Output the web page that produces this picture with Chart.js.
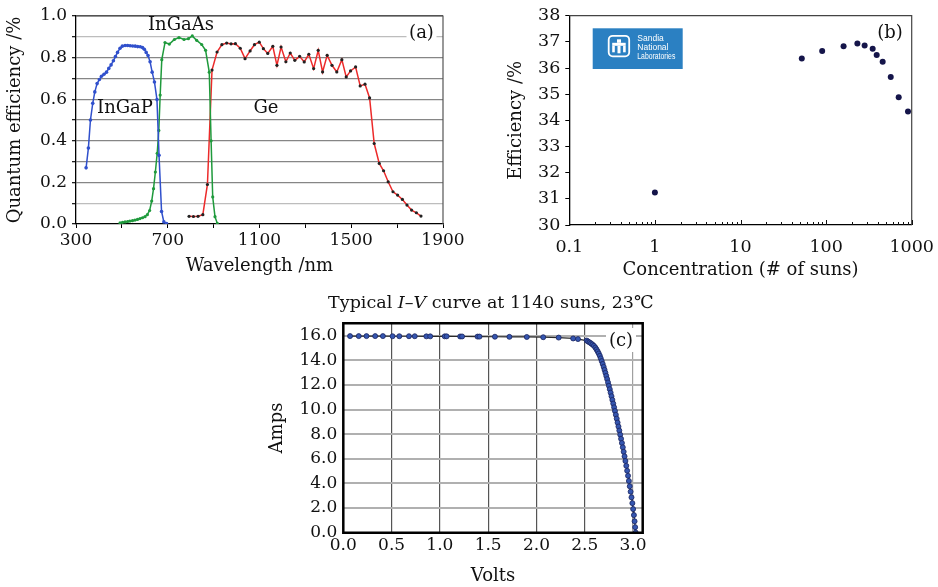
<!DOCTYPE html>
<html>
<head>
<meta charset="utf-8">
<script src="https://cdn.jsdelivr.net/npm/chart.js@4.4.0/dist/chart.umd.min.js"></script>
<style>
  body { margin: 0; background: #fff; }
  #wrap { position: relative; width: 938px; height: 587px; overflow: hidden; }
  #wrap canvas { position: absolute; }
</style>
</head>
<body>
<div id="wrap">
  <canvas id="qe" width="470" height="285" style="left:0;top:0"></canvas>
  <canvas id="eff" width="468" height="285" style="left:470px;top:0"></canvas>
  <canvas id="iv" width="440" height="302" style="left:250px;top:285px"></canvas>
</div>
<script>
// (a) quantum efficiency of the three sub-cells
const ingapNm = [344,354,363,373,382,392,402,411,422,433,443,453,463,472,481,492,502,514,525,536,547,558,569,580,590,598,606,614,623,632,642,653,662,673,683,695];
const ingapQE = [0.27,0.365,0.50,0.58,0.635,0.675,0.695,0.71,0.72,0.73,0.748,0.765,0.785,0.805,0.825,0.845,0.855,0.858,0.858,0.857,0.856,0.855,0.853,0.852,0.848,0.84,0.825,0.81,0.78,0.73,0.683,0.598,0.33,0.06,0.01,0.002];

const ingaasNm = [492,503,514,525,535,546,557,568,579,590,601,611,621,630,638,646,654,661,667,674,688,707,729,749,771,790,807,826,848,865,881,889,896,906,916];
const ingaasQE = [0.005,0.008,0.01,0.012,0.014,0.016,0.019,0.022,0.026,0.03,0.035,0.045,0.065,0.11,0.17,0.25,0.34,0.45,0.62,0.79,0.872,0.865,0.887,0.896,0.887,0.891,0.904,0.883,0.863,0.835,0.73,0.40,0.13,0.035,0.003];

const geNm = [793,812,832,853,873,893,915,936,957,976,995,1016,1037,1059,1078,1099,1117,1136,1158,1176,1194,1215,1234,1254,1275,1295,1315,1336,1356,1375,1395,1416,1437,1459,1478,1497,1519,1539,1560,1580,1600,1622,1641,1661,1682,1702,1723,1743,1763,1784,1804];
const geQE = [0.037,0.036,0.037,0.045,0.19,0.74,0.827,0.862,0.87,0.866,0.867,0.845,0.795,0.832,0.862,0.874,0.843,0.82,0.854,0.763,0.851,0.78,0.822,0.787,0.806,0.779,0.816,0.747,0.835,0.731,0.811,0.763,0.731,0.79,0.707,0.736,0.755,0.664,0.672,0.606,0.387,0.291,0.256,0.203,0.155,0.139,0.118,0.091,0.067,0.054,0.038];

// (b) efficiency vs concentration
const concSuns = [1.0,52,90,160,232,282,350,390,458,569,705,905];
const effPct = [31.24,36.36,36.65,36.83,36.94,36.86,36.74,36.5,36.24,35.66,34.88,34.34];
const concLabels = ['0.1','1','10','100','1000'];

// (c) I-V curve at 1140 suns
const ivVolts = [0.07,0.16,0.24,0.33,0.41,0.51,0.58,0.68,0.74,0.86,0.90,1.05,1.07,1.21,1.23,1.39,1.41,1.57,1.72,1.90,2.07,2.23,2.38,2.43,
  2.52,2.535,2.55,2.565,2.58,2.595,2.61,2.622,2.634,2.645,2.656,2.666,2.676,2.686,2.696,2.705,2.714,2.723,2.732,2.741,2.75,2.759,2.768,2.777,
  2.786,2.795,2.804,2.813,2.822,2.831,2.84,2.849,2.858,2.867,2.876,2.885,2.894,2.903,2.912,2.921,2.93,2.939,2.948,2.957,2.966,2.975,2.984,
  2.993,3.001,3.009,3.016,3.022,3.027];
const ivAmps = [15.96,15.96,15.96,15.96,15.96,15.95,15.95,15.95,15.95,15.94,15.94,15.94,15.94,15.93,15.93,15.92,15.92,15.91,15.9,15.89,15.87,15.84,15.77,15.72,
  15.6,15.52,15.45,15.37,15.28,15.17,15.03,14.88,14.72,14.55,14.36,14.15,13.93,13.7,13.46,13.22,12.98,12.73,12.47,12.2,11.93,11.65,11.37,11.08,
  10.78,10.48,10.18,9.88,9.57,9.26,8.94,8.62,8.29,7.96,7.62,7.28,6.93,6.57,6.2,5.82,5.43,5.03,4.62,4.2,3.77,3.33,2.87,
  2.4,1.92,1.43,0.93,0.45,0.02];

const SERIF = '"DejaVu Serif", "Noto Sans CJK SC", serif';
Chart.defaults.font.family = SERIF;
Chart.defaults.color = '#111';

const pts = (xs, ys) => xs.map((x, i) => ({ x: x, y: ys[i] }));

// free text, optionally on a white patch that hides the grid behind it
const notes = {
  id: 'notes',
  afterDraw(chart, args, opts) {
    const ctx = chart.ctx;
    (opts.items || []).forEach(n => {
      ctx.save();
      if (n.bg) { ctx.fillStyle = '#fff'; ctx.fillRect(n.bg[0], n.bg[1], n.bg[2], n.bg[3]); }
      ctx.fillStyle = '#111';
      ctx.textAlign = 'center';
      ctx.textBaseline = 'middle';
      if (n.runs) {
        let total = 0;
        n.runs.forEach(r => { ctx.font = r.font; r.w = ctx.measureText(r.text).width; total += r.w; });
        let x = n.x - total / 2;
        ctx.textAlign = 'left';
        n.runs.forEach(r => { ctx.font = r.font; ctx.fillText(r.text, x, n.y); x += r.w; });
      } else {
        ctx.font = n.font || ('18px ' + SERIF);
        ctx.fillText(n.text, n.x, n.y);
      }
      ctx.restore();
    });
  }
};

// box lines on the sides that have no axis
const frame = {
  id: 'frame',
  afterDatasetsDraw(chart, args, opts) {
    const { ctx, chartArea: a } = chart;
    ctx.save();
    ctx.strokeStyle = opts.color || '#444';
    ctx.lineWidth = opts.width || 1;
    ctx.beginPath();
    if (opts.all) {
      ctx.rect(a.left, a.top, a.right - a.left, a.bottom - a.top);
    } else {
      ctx.moveTo(a.left, a.top); ctx.lineTo(a.right, a.top); ctx.lineTo(a.right, a.bottom);
    }
    ctx.stroke();
    ctx.restore();
  }
};

const base = {
  responsive: false,
  animation: false,
  devicePixelRatio: 1,
  plugins: { legend: { display: false }, tooltip: { enabled: false } }
};

// ---------- (a) ----------
new Chart(document.getElementById('qe'), {
  type: 'scatter',
  data: {
    datasets: [
      { data: pts(ingapNm, ingapQE), showLine: true, borderColor: '#3050cc', borderWidth: 1.5,
        pointRadius: 1.8, pointBackgroundColor: '#3050cc', pointBorderWidth: 0 },
      { data: pts(ingaasNm, ingaasQE), showLine: true, borderColor: '#1f9a3c', borderWidth: 1.5,
        pointRadius: 1.6, pointBackgroundColor: '#1f9a3c', pointBorderWidth: 0 },
      { data: pts(geNm, geQE), showLine: true, borderColor: '#ec2a2a', borderWidth: 1.5,
        pointRadius: 1.6, pointBackgroundColor: '#222', pointBorderWidth: 0 }
    ]
  },
  options: Object.assign({}, base, {
    layout: { padding: { left: 0, right: 27, top: 16, bottom: 0 } },
    scales: {
      x: {
        type: 'linear', min: 300, max: 1900,
        afterFit: s => { s.height = 61; },
        ticks: { stepSize: 200, autoSkip: false, maxRotation: 0, padding: 2,
          font: { size: 17 },
          callback: v => ((v - 300) % 400 === 0 ? String(v) : '') },
        grid: { drawOnChartArea: false, tickLength: 4, color: '#000' },
        border: { color: '#000', width: 1.3 },
        title: { display: true, text: 'Wavelength /nm', font: { size: 18 }, padding: { top: 0, bottom: 8 } }
      },
      y: {
        min: 0, max: 1,
        afterFit: s => { s.width = 76; },
        ticks: { stepSize: 0.1, autoSkip: false, padding: 5, font: { size: 17 },
          callback: v => (Math.round(v * 10) % 2 === 0 ? v.toFixed(1) : '') },
        grid: {
          lineWidth: 1.3, tickLength: 4, tickColor: '#222',
          color: c => {
            const k = Math.round(c.tick.value * 10);
            if (k === 0) return 'rgba(0,0,0,0)';
            if (k === 10) return '#555';
            return (k === 1 || k === 9) ? '#bdbdbd' : '#868686';
          }
        },
        border: { color: '#000', width: 1.3 },
        title: { display: true, text: 'Quantum efficiency /%', font: { size: 18 }, padding: { top: 5, bottom: 0 } }
      }
    },
    plugins: Object.assign({}, base.plugins, {
      frame: { color: '#555', width: 1.2 },
      notes: { items: [
        { text: 'InGaAs', x: 181, y: 25 },
        { text: 'InGaP', x: 125, y: 108 },
        { text: 'Ge', x: 266, y: 108 },
        { text: '(a)', x: 421.5, y: 33, bg: [406.5, 25, 30, 16] }
      ] }
    })
  }),
  plugins: [frame, notes]
});

// ---------- (b) ----------
const decade = v => Math.abs(Math.log10(v) - Math.round(Math.log10(v))) < 1e-6;

// short inward ticks along the log axis
const inTicks = {
  id: 'inTicks',
  afterDatasetsDraw(chart) {
    const s = chart.scales.x, ctx = chart.ctx, b = chart.chartArea.bottom;
    ctx.save();
    ctx.strokeStyle = '#111';
    ctx.lineWidth = 1;
    s.ticks.forEach(t => {
      const px = Math.round(s.getPixelForValue(t.value)) + 0.5;
      ctx.beginPath();
      ctx.moveTo(px, b);
      ctx.lineTo(px, b - (decade(t.value) ? 5 : 3));
      ctx.stroke();
    });
    ctx.restore();
  }
};

// laboratory badge in the upper left of the plot
const badge = {
  id: 'badge',
  afterDraw(chart) {
    const ctx = chart.ctx, x = 122.7, y = 28.3, w = 90, h = 40.7;
    ctx.save();
    ctx.fillStyle = '#2b80c2';
    ctx.fillRect(x, y, w, h);
    ctx.strokeStyle = '#fff';
    ctx.lineWidth = 1.8;
    ctx.beginPath();
    ctx.roundRect(x + 16, y + 7.5, 20.5, 20.5, 4);
    ctx.stroke();
    ctx.fillStyle = '#fff';
    ctx.fillRect(x + 24.3, y + 11, 4, 3.5);
    ctx.fillRect(x + 19.5, y + 14.5, 13.5, 3);
    ctx.fillRect(x + 19.5, y + 17.5, 2.6, 6.5);
    ctx.fillRect(x + 30.4, y + 17.5, 2.6, 6.5);
    ctx.fillRect(x + 24.8, y + 17.5, 3, 7.5);
    ctx.font = '8.5px "Liberation Sans Narrow", "Liberation Sans", sans-serif';
    ctx.textBaseline = 'middle';
    ctx.textAlign = 'left';
    ctx.fillText('Sandia', x + 44.6, y + 10, 38);
    ctx.fillText('National', x + 44.6, y + 19, 38);
    ctx.fillText('Laboratories', x + 44.6, y + 28.5, 38);
    ctx.restore();
  }
};

new Chart(document.getElementById('eff'), {
  type: 'scatter',
  data: {
    datasets: [
      { data: pts(concSuns, effPct), pointRadius: 3, pointBackgroundColor: '#15154a', pointBorderWidth: 0 }
    ]
  },
  options: Object.assign({}, base, {
    layout: { padding: { left: 36, right: 26.3, top: 15.7, bottom: 0 } },
    scales: {
      x: {
        type: 'logarithmic', min: 0.1, max: 1000,
        afterFit: s => { s.height = 60; },
        afterBuildTicks: s => {
          const t = [];
          for (let e = -1; e < 3; e++) {
            for (let m = 1; m < 10; m++) t.push({ value: +(m * Math.pow(10, e)).toPrecision(3) });
          }
          t.push({ value: 1000 });
          s.ticks = t;
        },
        ticks: { autoSkip: false, maxRotation: 0, padding: 4, font: { size: 17.5 },
          callback: v => (decade(v) ? concLabels[Math.round(Math.log10(v)) + 1] : '') },
        grid: { display: false },
        border: { color: '#000', width: 1.3 },
        title: { display: true, text: 'Concentration (# of suns)', font: { size: 18 }, padding: { top: 0, bottom: 4 } }
      },
      y: {
        min: 30, max: 38,
        afterFit: s => { s.width = 63.3; },
        ticks: { stepSize: 1, padding: 5, font: { size: 17.5 } },
        grid: { drawOnChartArea: false, tickLength: 4, color: '#000' },
        border: { color: '#000', width: 1.3 },
        title: { display: true, text: 'Efficiency /%', font: { size: 18 }, padding: { top: 0, bottom: 0 } }
      }
    },
    plugins: Object.assign({}, base.plugins, {
      frame: { color: '#444', width: 1.2 },
      notes: { items: [ { text: '(b)', x: 420, y: 33.3 } ] }
    })
  }),
  plugins: [frame, inTicks, badge, notes]
});

// ---------- (c) ----------
new Chart(document.getElementById('iv'), {
  type: 'scatter',
  data: {
    datasets: [
      { data: pts(ivVolts, ivAmps), showLine: true, borderColor: '#2a2a2a', borderWidth: 1.2,
        pointRadius: 2.5, pointBackgroundColor: '#3556b0', pointBorderColor: '#1b2560', pointBorderWidth: 0.8 }
    ]
  },
  options: Object.assign({}, base, {
    layout: { padding: { left: 17, right: 47.3, top: 38.3, bottom: 0 } },
    scales: {
      x: {
        min: 0, max: 3.1,
        afterFit: s => { s.height = 54.3; },
        ticks: { stepSize: 0.5, includeBounds: false, autoSkip: false, maxRotation: 0, padding: 3,
          font: { size: 17 }, callback: v => v.toFixed(1) },
        grid: {
          drawTicks: false, lineWidth: 1.2,
          color: c => (c.tick.value === 0 ? 'rgba(0,0,0,0)' : c.tick.value >= 3 ? '#a0a0a0' : '#555')
        },
        border: { display: false },
        title: { display: true, text: 'Volts', font: { size: 18 }, padding: { top: 0, bottom: 0 } }
      },
      y: {
        min: 0, max: 17,
        afterFit: s => { s.width = 76.3; },
        ticks: { stepSize: 2, includeBounds: false, padding: 6, font: { size: 17 },
          callback: v => v.toFixed(1) },
        grid: {
          drawTicks: false, lineWidth: 2,
          color: c => (c.tick.value === 0 ? 'rgba(0,0,0,0)' : '#b0b0b0')
        },
        border: { display: false },
        title: { display: true, text: 'Amps', font: { size: 18 }, padding: { top: 0, bottom: 0 } }
      }
    },
    plugins: Object.assign({}, base.plugins, {
      frame: { color: '#000', width: 2.5, all: true },
      notes: { items: [
        { x: 240.8, y: 18, runs: [
          { text: 'Typical ', font: '17.5px ' + SERIF },
          { text: 'I', font: 'italic 17.5px ' + SERIF },
          { text: '\u2013', font: '17.5px ' + SERIF },
          { text: 'V', font: 'italic 17.5px ' + SERIF },
          { text: ' curve at 1140 suns, 23\u2103', font: '17.5px ' + SERIF }
        ] },
        { text: '(c)', x: 371, y: 56, bg: [356, 43, 30, 24] }
      ] }
    })
  }),
  plugins: [frame, notes]
});
</script>
</body>
</html>
